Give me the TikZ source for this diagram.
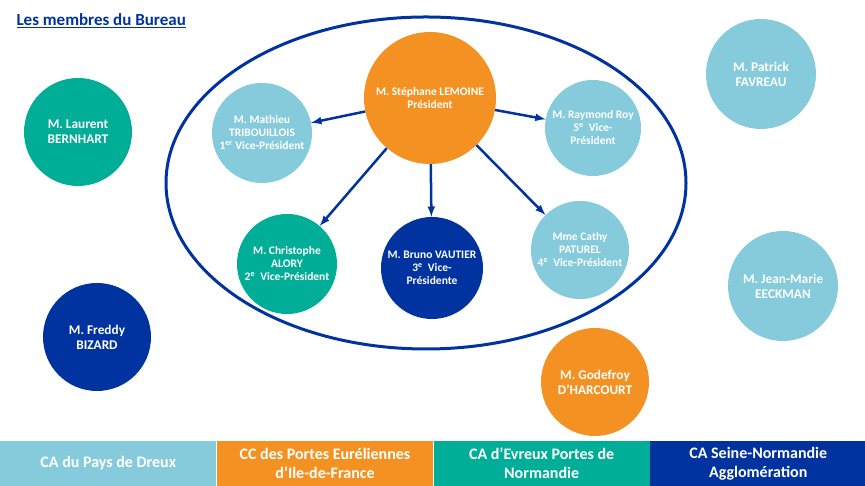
\documentclass[tikz,border=0pt]{standalone}
\usepackage{fontspec}
\setmainfont{Carlito}
\usepackage{tikz}
\usetikzlibrary{arrows,shapes,positioning}
\definecolor{ciel}{HTML}{86CBDC}
\definecolor{orange}{HTML}{F39222}
\definecolor{sarcelle}{HTML}{00AE97}
\definecolor{marine}{HTML}{0033A0}

\begin{document}
\begin{tikzpicture}[x=1pt,y=1pt]
\tikzstyle{main}=[circle, minimum size=108pt, inner sep=0pt, align=center, text=white, font=\bfseries\fontsize{13.3}{15}\selectfont]
\tikzstyle{bureau}=[main, minimum size=100pt, font=\bfseries\fontsize{11.5}{13}\selectfont]
\tikzstyle{connect}=[-latex, line width=2.5pt, draw=marine]
\tikzstyle{agglo}=[rectangle, minimum width=216.25pt, minimum height=45pt, inner sep=0pt, align=center, text=white, font=\bfseries\fontsize{16}{19}\selectfont]

  \useasboundingbox (0,0) rectangle (865,486);

  \node[anchor=west, text=marine, font=\bfseries\fontsize{17}{20}\selectfont] (titre) at (13,465) {\underline{Les membres du Bureau}};

  \draw[marine, line width=3pt] (426,303) ellipse (260 and 166);

  \node[bureau, fill=orange, minimum size=132pt] (pres) at (430,388) {M. Stéphane LEMOINE\\Président};

  \node[bureau, fill=ciel] (mathieu) [left of=pres, node distance=168pt, yshift=-35pt] {M. Mathieu\\TRIBOUILLOIS\\1\textsuperscript{er} Vice-Président};
  \node[bureau, fill=sarcelle] (christophe) [below of=pres, node distance=166pt, xshift=-143pt] {M. Christophe\\ALORY\\2\textsuperscript{e}\ \ Vice-Président};
  \node[bureau, fill=marine, minimum size=102pt] (bruno) [below of=pres, node distance=170pt, xshift=2pt] {M. Bruno VAUTIER\\3\textsuperscript{e}\ \ Vice-\\Présidente};
  \node[bureau, fill=ciel, minimum size=98pt] (cathy) [below of=pres, node distance=152pt, xshift=150pt] {Mme Cathy\\PATUREL\\4\textsuperscript{e}\ \ Vice-Président};
  \node[bureau, fill=ciel, minimum size=96pt] (raymond) [right of=pres, node distance=163pt, yshift=-30pt] {M. Raymond Roy\\5\textsuperscript{e}\ \ Vice-\\Président};

  \node[main, fill=sarcelle] (laurent) at (78,354) {M. Laurent\\BERNHART};
  \node[main, fill=marine] (freddy) at (97,149) {M. Freddy\\BIZARD};
  \node[main, fill=ciel, minimum size=110pt] (patrick) at (761,412) {M. Patrick\\FAVREAU};
  \node[main, fill=ciel, minimum size=110pt] (jeanmarie) at (783,200) {M. Jean-Marie\\EECKMAN};
  \node[main, fill=orange] (godefroy) at (595,104) {M. Godefroy\\D’HARCOURT};

  \path (pres) edge [connect] (mathieu);
  \path (pres) edge [connect] (christophe);
  \path (pres) edge [connect] (bruno);
  \path (pres) edge [connect] (cathy);
  \path (pres) edge [connect] (raymond);

  % bandeau des agglomerations
  \node[agglo, fill=ciel, anchor=south west] (dreux) at (0,0) {CA du Pays de Dreux};
  \node[agglo, fill=orange] (eure) [right=0pt of dreux] {CC des Portes Euréliennes\\d’Ile-de-France};
  \node[agglo, fill=sarcelle] (evreux) [right=0pt of eure] {CA d’Evreux Portes de\\Normandie};
  \node[agglo, fill=marine] (seine) [right=0pt of evreux] {CA Seine-Normandie\\Agglomération};

\end{tikzpicture}
\end{document}
